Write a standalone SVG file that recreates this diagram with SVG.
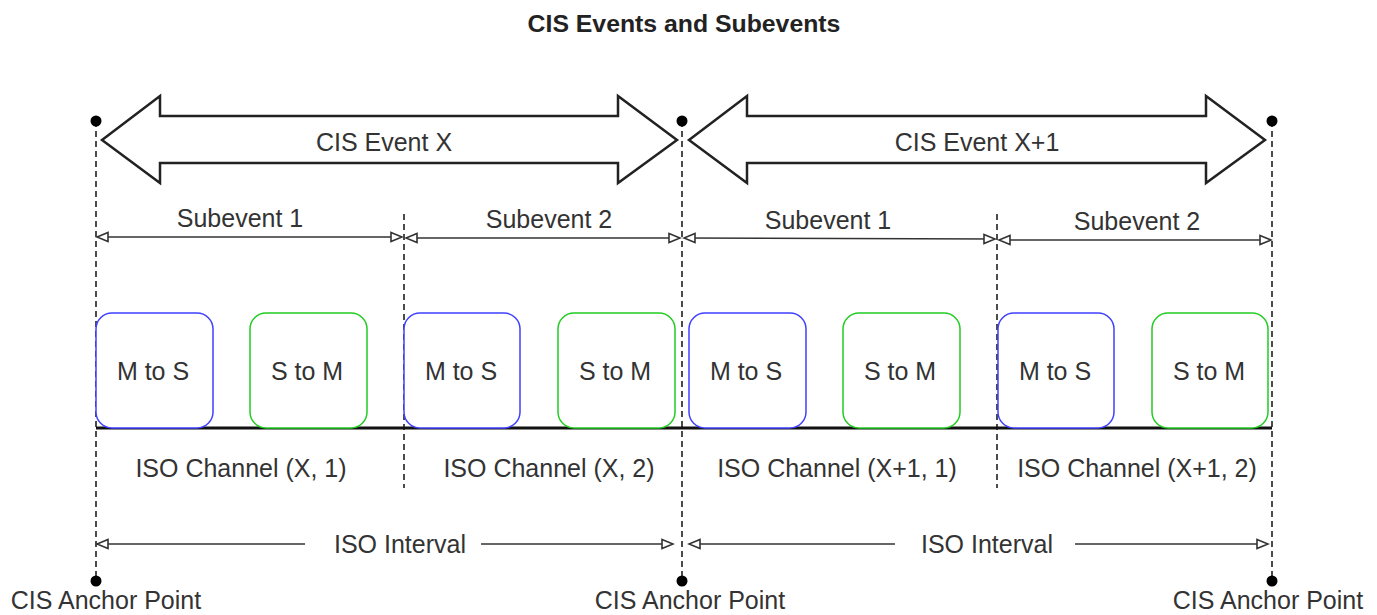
<svg xmlns="http://www.w3.org/2000/svg" width="1377" height="615" viewBox="0 0 1377 615">
<style>
.t{font-family:"Liberation Sans",Arial,sans-serif;font-size:25px;fill:#333;text-anchor:middle}
.title{font-family:"Liberation Sans",Arial,sans-serif;font-size:24.8px;font-weight:bold;fill:#222;text-anchor:middle}
.dash{stroke:#111;stroke-width:1.5;stroke-dasharray:6 4;fill:none}
.big{fill:#fff;stroke:#222;stroke-width:2.5;stroke-linejoin:miter}
.dim{stroke:#333;stroke-width:1.6;fill:none}
.ms{fill:#fff;stroke:#4040ff;stroke-width:1.5}
.sm{fill:#fff;stroke:#22cc22;stroke-width:1.5}
.dot{fill:#000}
</style>
<defs>
<marker id="oa" markerUnits="userSpaceOnUse" markerWidth="14" markerHeight="12" viewBox="0 0 14 12" refX="12" refY="6" orient="auto-start-reverse">
<path d="M1,1.5 L12,6 L1,10.5 Z" fill="#fff" stroke="#333" stroke-width="1.6"/>
</marker>
</defs>
<rect width="1377" height="615" fill="#fff"/>
<g id="title"><text class="title" x="684" y="32">CIS Events and Subevents</text></g>
<g id="connectors">
<line class="dash" x1="96" y1="121" x2="96" y2="581"/>
<line class="dash" x1="682" y1="121" x2="682" y2="581"/>
<line class="dash" x1="1272" y1="121" x2="1272" y2="581"/>
<line class="dash" x1="404" y1="214" x2="404" y2="488"/>
<line class="dash" x1="997" y1="214" x2="997" y2="488"/>
<line class="dim" x1="97" y1="237" x2="402" y2="237" marker-start="url(#oa)" marker-end="url(#oa)"/>
<line class="dim" x1="406" y1="238" x2="680" y2="238" marker-start="url(#oa)" marker-end="url(#oa)"/>
<line class="dim" x1="684" y1="238" x2="995" y2="239" marker-start="url(#oa)" marker-end="url(#oa)"/>
<line class="dim" x1="999" y1="240" x2="1271" y2="240" marker-start="url(#oa)" marker-end="url(#oa)"/>
<line class="dim" x1="305" y1="544" x2="97" y2="544" marker-end="url(#oa)"/>
<line class="dim" x1="481" y1="544" x2="673" y2="544" marker-end="url(#oa)"/>
<line class="dim" x1="895" y1="544" x2="689" y2="544" marker-end="url(#oa)"/>
<line class="dim" x1="1075" y1="544" x2="1268" y2="544" marker-end="url(#oa)"/>
<line x1="96" y1="428" x2="1272" y2="428" stroke="#111" stroke-width="3"/>
</g>
<g id="event-x">
<polygon class="big" points="102,140 160,96 160,116 618,116 618,96 677,140 618,183 618,163 160,163 160,183"/>
<text class="t" x="384" y="151">CIS Event X</text>
</g>
<g id="event-x1">
<polygon class="big" points="689,140 747,96 747,116 1206,116 1206,96 1265,140 1206,183 1206,163 747,163 747,183"/>
<text class="t" x="977" y="151">CIS Event X+1</text>
</g>
<g id="anchors">
<circle class="dot" cx="96" cy="121" r="5.5"/>
<circle class="dot" cx="682" cy="121" r="5.5"/>
<circle class="dot" cx="1272" cy="121" r="5.5"/>
<circle class="dot" cx="96" cy="581" r="5.5"/>
<circle class="dot" cx="682" cy="581" r="5.5"/>
<circle class="dot" cx="1272" cy="581" r="5.5"/>
<text class="t" x="106" y="609">CIS Anchor Point</text>
<text class="t" x="690" y="609">CIS Anchor Point</text>
<text class="t" x="1268" y="609">CIS Anchor Point</text>
</g>
<g id="subevent-labels">
<text class="t" x="240" y="227">Subevent 1</text>
<text class="t" x="549" y="228">Subevent 2</text>
<text class="t" x="828" y="229">Subevent 1</text>
<text class="t" x="1137" y="230">Subevent 2</text>
</g>
<g id="box-1"><rect class="ms" x="96" y="313" width="117" height="115" rx="16"/><text class="t" x="153" y="380">M to S</text></g>
<g id="box-2"><rect class="sm" x="250" y="313" width="117" height="115" rx="16"/><text class="t" x="307" y="380">S to M</text></g>
<g id="box-3"><rect class="ms" x="404" y="313" width="116" height="115" rx="16"/><text class="t" x="461" y="380">M to S</text></g>
<g id="box-4"><rect class="sm" x="558" y="313" width="117" height="115" rx="16"/><text class="t" x="615" y="380">S to M</text></g>
<g id="box-5"><rect class="ms" x="689" y="313" width="117" height="115" rx="16"/><text class="t" x="746" y="380">M to S</text></g>
<g id="box-6"><rect class="sm" x="843" y="313" width="117" height="115" rx="16"/><text class="t" x="900" y="380">S to M</text></g>
<g id="box-7"><rect class="ms" x="998" y="313" width="116" height="115" rx="16"/><text class="t" x="1055" y="380">M to S</text></g>
<g id="box-8"><rect class="sm" x="1152" y="313" width="116" height="115" rx="16"/><text class="t" x="1209" y="380">S to M</text></g>
<g id="channel-labels">
<text class="t" x="241" y="477">ISO Channel (X, 1)</text>
<text class="t" x="549" y="477">ISO Channel (X, 2)</text>
<text class="t" x="837" y="477">ISO Channel (X+1, 1)</text>
<text class="t" x="1137" y="477">ISO Channel (X+1, 2)</text>
</g>
<g id="interval-labels">
<text class="t" x="400" y="553">ISO Interval</text>
<text class="t" x="987" y="553">ISO Interval</text>
</g>
</svg>
